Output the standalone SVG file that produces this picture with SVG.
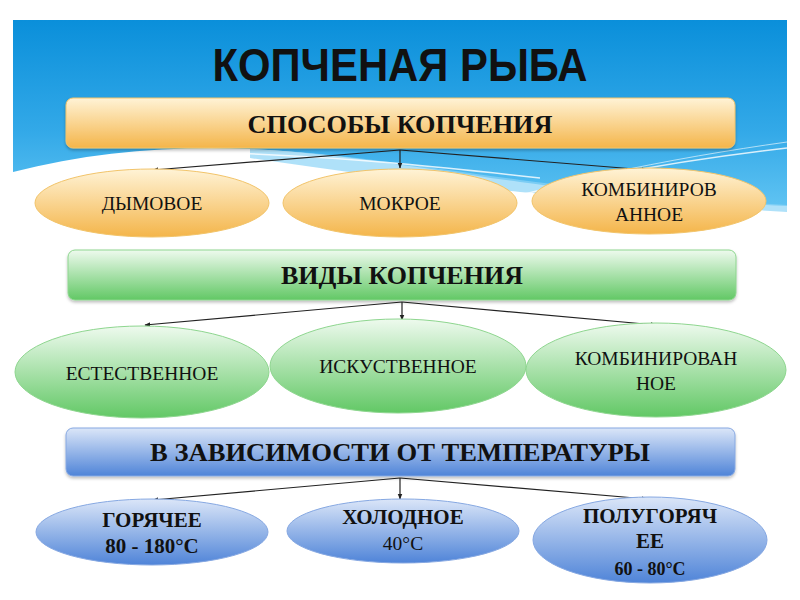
<svg xmlns="http://www.w3.org/2000/svg" width="800" height="600" viewBox="0 0 800 600">
<defs>
<linearGradient id="sky" x1="0" y1="0" x2="0" y2="1">
<stop offset="0" stop-color="#0a8fda"/><stop offset="0.6" stop-color="#33a9e8"/><stop offset="1" stop-color="#5fc3f2"/>
</linearGradient>
<linearGradient id="gOr" x1="0" y1="0" x2="0" y2="1">
<stop offset="0" stop-color="#fff3d6"/><stop offset="1" stop-color="#f4b54a"/>
</linearGradient>
<linearGradient id="gGr" x1="0" y1="0" x2="0" y2="1">
<stop offset="0" stop-color="#eefaee"/><stop offset="1" stop-color="#62c865"/>
</linearGradient>
<linearGradient id="gBl" x1="0" y1="0" x2="0" y2="1">
<stop offset="0" stop-color="#dbe6f8"/><stop offset="1" stop-color="#4f84d8"/>
</linearGradient>
<marker id="ah" viewBox="0 0 10 10" refX="9" refY="5" markerWidth="5" markerHeight="5" orient="auto">
<path d="M0,1 L10,5 L0,9 Z" fill="#222"/>
</marker>
<filter id="sh" x="-5%" y="-20%" width="110%" height="150%">
<feDropShadow dx="0" dy="2" stdDeviation="1.5" flood-color="#000" flood-opacity="0.25"/>
</filter>
</defs>
<style>
.title{font-family:"Liberation Sans",Arial,sans-serif;font-weight:bold;font-size:46px;fill:#111}
.hdr{font-family:"Liberation Serif","Times New Roman",serif;font-weight:bold;font-size:25px;fill:#111;text-anchor:middle}
.lbl{font-family:"Liberation Serif","Times New Roman",serif;font-size:19.5px;fill:#111;text-anchor:middle}
.lblb{font-family:"Liberation Serif","Times New Roman",serif;font-weight:bold;font-size:21px;fill:#111;text-anchor:middle}
.or{fill:url(#gOr);stroke:#f2c46a;stroke-width:1}
.gr{fill:url(#gGr);stroke:#8ed68f;stroke-width:1}
.bl{fill:url(#gBl);stroke:#86a8e2;stroke-width:1}
.con{stroke:#222;stroke-width:1.2;fill:none;marker-end:url(#ah)}
</style>
<rect width="800" height="600" fill="#fff"/>
<path d="M13,20 H787 V206 C700,202 600,193 520,182 C420,168 330,152 250,149 C170,146 90,152 13,172 Z" fill="url(#sky)"/>
<path d="M250,149 C330,152 420,166 520,180 C600,190 700,200 787,205 L787,212 C690,206 600,198 520,192 C420,182 330,170 250,158 Z" fill="#8dd4f6" opacity="0.7"/>
<path d="M230,153 C350,157 450,168 540,178" stroke="#fff" stroke-width="1.5" fill="none" opacity="0.8"/>
<path d="M500,200 C560,185 640,165 787,148" stroke="#fff" stroke-width="1.5" fill="none" opacity="0.8"/>
<path d="M600,175 C670,160 730,150 787,142" stroke="#fff" stroke-width="1" fill="none" opacity="0.6"/>
<text class="title" x="400" y="81" text-anchor="middle" textLength="375" lengthAdjust="spacingAndGlyphs">КОПЧЕНАЯ РЫБА</text>

<g id="connectors">
<line class="con" x1="400" y1="150" x2="153" y2="170"/>
<line class="con" x1="400" y1="150" x2="400" y2="168"/>
<line class="con" x1="400" y1="150" x2="647" y2="170"/>
<line class="con" x1="402" y1="302" x2="145" y2="325"/>
<line class="con" x1="402" y1="302" x2="402" y2="320"/>
<line class="con" x1="402" y1="302" x2="656" y2="325"/>
<line class="con" x1="400" y1="478" x2="153" y2="500"/>
<line class="con" x1="400" y1="478" x2="400" y2="499"/>
<line class="con" x1="400" y1="478" x2="647" y2="499"/>
</g>

<g id="n-sposoby">
<rect x="66" y="98" width="669" height="50" rx="7" class="or" filter="url(#sh)"/>
<text class="hdr" x="400" y="133" textLength="305" lengthAdjust="spacingAndGlyphs">СПОСОБЫ КОПЧЕНИЯ</text>
</g>
<g id="n-dymovoe">
<ellipse cx="152" cy="203" rx="117" ry="34" class="or"/>
<text class="lbl" x="152" y="210">ДЫМОВОЕ</text>
</g>
<g id="n-mokroe">
<ellipse cx="400" cy="203" rx="117" ry="34" class="or"/>
<text class="lbl" x="400" y="210">МОКРОЕ</text>
</g>
<g id="n-komb1">
<ellipse cx="649" cy="201" rx="117" ry="33" class="or"/>
<text class="lbl" x="649" y="196">КОМБИНИРОВ</text>
<text class="lbl" x="649" y="221">АННОЕ</text>
</g>

<g id="n-vidy">
<rect x="68" y="250" width="668" height="50" rx="7" class="gr" filter="url(#sh)"/>
<text class="hdr" x="402" y="284" textLength="242" lengthAdjust="spacingAndGlyphs">ВИДЫ КОПЧЕНИЯ</text>
</g>
<g id="n-estestv">
<ellipse cx="142" cy="372" rx="127" ry="46" class="gr"/>
<text class="lbl" x="142" y="380">ЕСТЕСТВЕННОЕ</text>
</g>
<g id="n-iskusstv">
<ellipse cx="398" cy="366" rx="128" ry="47" class="gr"/>
<text class="lbl" x="398" y="373">ИСКУСТВЕННОЕ</text>
</g>
<g id="n-komb2">
<ellipse cx="656" cy="370" rx="130" ry="47" class="gr"/>
<text class="lbl" x="656" y="365">КОМБИНИРОВАН</text>
<text class="lbl" x="656" y="390">НОЕ</text>
</g>

<g id="n-temp">
<rect x="66" y="428" width="669" height="48" rx="7" class="bl" filter="url(#sh)"/>
<text class="hdr" x="400" y="461" textLength="500" lengthAdjust="spacingAndGlyphs">В ЗАВИСИМОСТИ ОТ ТЕМПЕРАТУРЫ</text>
</g>
<g id="n-goryachee">
<ellipse cx="152" cy="532" rx="116" ry="33" class="bl"/>
<text class="lblb" x="152" y="527">ГОРЯЧЕЕ</text>
<text class="lblb" x="152" y="553">80 - 180°C</text>
</g>
<g id="n-holodnoe">
<ellipse cx="403" cy="531" rx="116" ry="32" class="bl"/>
<text class="lblb" x="403" y="524">ХОЛОДНОЕ</text>
<text class="lbl" x="403" y="550">40°C</text>
</g>
<g id="n-polugor">
<ellipse cx="650" cy="540" rx="117" ry="43" class="bl"/>
<text class="lblb" x="650" y="523">ПОЛУГОРЯЧ</text>
<text class="lblb" x="650" y="548">ЕЕ</text>
<text class="lblb" x="650" y="575" style="font-size:18px">60 - 80°C</text>
</g>
</svg>
